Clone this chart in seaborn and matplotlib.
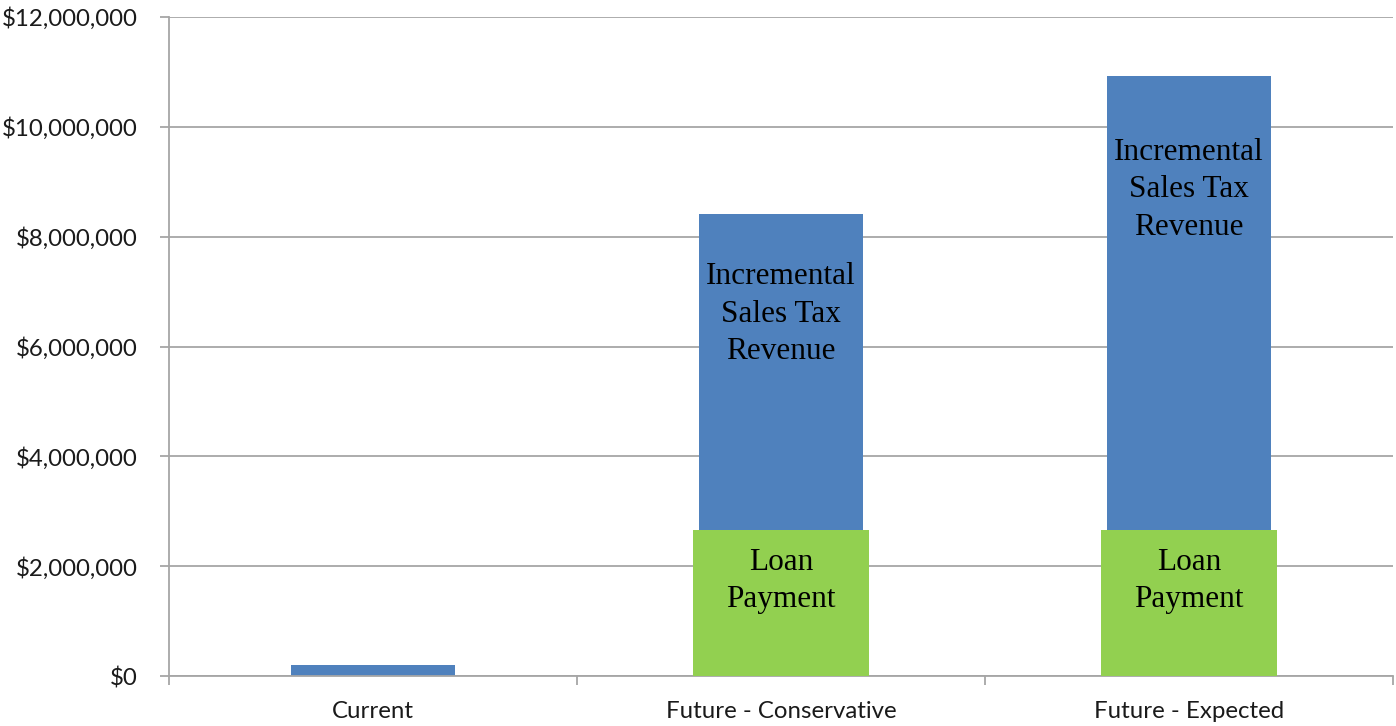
import matplotlib
matplotlib.use("Agg")
import matplotlib.pyplot as plt
from matplotlib.ticker import FuncFormatter, FixedLocator
import seaborn as sns
import pandas as pd

# Revenue scenarios (USD)
categories = ["Current", "Future - Conservative", "Future - Expected"]
sales_tax_revenue = [200000, 8410000, 10930000]
loan_payment = [0, 2660000, 2660000]
segment_labels = ["Incremental\nSales Tax\nRevenue", "Loan\nPayment"]
tick_values = [0, 2000000, 4000000, 6000000, 8000000, 10000000, 12000000]

BLUE = "#4F81BD"
GREEN = "#92D050"
GRID = "#A6A6A6"

sns.set_theme(style="white")
plt.rcParams["font.family"] = ["Lato", "DejaVu Sans"]

df = pd.DataFrame({
    "scenario": categories,
    "revenue": sales_tax_revenue,
    "loan": loan_payment,
})

fig = plt.figure(figsize=(13.96, 7.26), dpi=100)
ax = fig.add_axes([169 / 1396, 1 - 676 / 726, (1393 - 169) / 1396, (676 - 17) / 726])

sns.barplot(data=df, x="scenario", y="revenue", order=categories,
            color=BLUE, width=0.4, saturation=1, linewidth=0, ax=ax, zorder=2)
sns.barplot(data=df, x="scenario", y="loan", order=categories,
            color=GREEN, width=0.43, saturation=1, linewidth=0, ax=ax, zorder=3)

ax.set_xlim(-0.5, 2.5)
ax.set_ylim(0, 12000000)
ax.set_xlabel("")
ax.set_ylabel("")

ax.yaxis.set_major_locator(FixedLocator(tick_values))
ax.yaxis.set_major_formatter(FuncFormatter(lambda v, p: f"${v:,.0f}"))
ax.grid(axis="y", color=GRID, linewidth=1.3, zorder=0)
ax.set_axisbelow(True)

for side in ("top", "right"):
    ax.spines[side].set_visible(False)
for side in ("left", "bottom"):
    ax.spines[side].set_color(GRID)
    ax.spines[side].set_linewidth(1.3)

ax.tick_params(axis="y", which="major", left=True, length=6.5, width=1.3,
               color=GRID, pad=16, labelsize=17.3, labelcolor="#1a1a1a")
ax.tick_params(axis="x", which="major", bottom=False, length=0, pad=18,
               labelsize=17.3, labelcolor="#1a1a1a")
ax.set_xticks([-0.5, 0.5, 1.5, 2.5], minor=True)
ax.tick_params(axis="x", which="minor", bottom=True, length=6.5, width=1.3,
               color=GRID)

# Segment labels inside the future-scenario bars
serif = ["Liberation Serif", "DejaVu Serif"]
for i, y in zip([1, 2], [6590000, 8850000]):
    ax.text(i, y, segment_labels[0], ha="center", va="center",
            fontsize=22.5, family=serif, color="black", zorder=4,
            linespacing=1.38)
for i in [1, 2]:
    ax.text(i, 1730000, segment_labels[1], ha="center", va="center",
            fontsize=22.5, family=serif, color="black", zorder=4,
            linespacing=1.38)

fig.savefig("out.png", dpi=100)
